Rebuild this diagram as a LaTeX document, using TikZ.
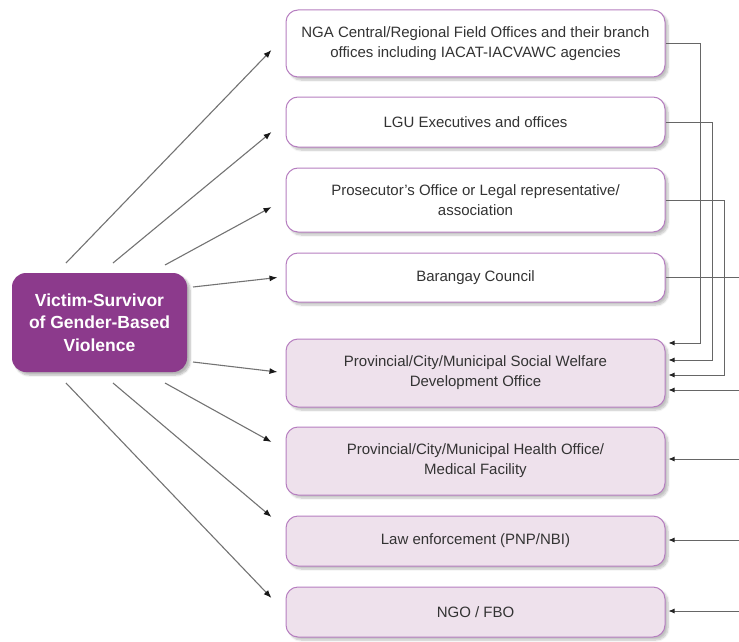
\documentclass[tikz,border=0pt]{standalone}
\usepackage{fontspec}
\setmainfont{Liberation Sans}
\usetikzlibrary{arrows.meta}
\usetikzlibrary{shadows.blur}

\definecolor{plum}{HTML}{8C3A8C}
\definecolor{lilac}{HTML}{B67EC0}
\definecolor{blush}{HTML}{EEE1EC}

\tikzset{
  agency/.style={draw=lilac, line width=1pt, rounded corners=12pt,
    minimum width=379pt, align=center, text=black!80,
    font=\fontsize{15}{20}\selectfont,
    blur shadow={shadow xshift=3pt, shadow yshift=-3pt, shadow opacity=25, shadow blur steps=6}},
  service/.style={agency, fill=blush},
  link/.style={draw=black!55, line width=1.1pt, -{Latex[length=8pt,width=6pt,color=black!90]}},
  feed/.style={draw=black!60, line width=.8pt},
}

\begin{document}
\begin{tikzpicture}[x=1pt,y=-1pt]
      \useasboundingbox (0,0) rectangle (739,642);
      % the person at the centre
      \node[rounded corners=14pt, fill=plum, minimum width=175pt, minimum height=99pt,
        align=center, text=white, font=\bfseries\fontsize{17.5}{22.5}\selectfont,
        blur shadow={shadow xshift=3pt, shadow yshift=-3pt, shadow opacity=30, shadow blur steps=6}]
        (vic) at (99.5,322.5) {Victim-Survivor\\of Gender-Based\\Violence};
      % offices and service providers
      \node[agency, fill=white, minimum height=67pt] (nga) at (475.5,43.5)
        {NGA Central/Regional Field Offices and their branch\\offices including IACAT-IACVAWC agencies};
      \node[agency, fill=white, minimum height=50pt] (lgu) at (475.5,122) {LGU Executives and offices};
      \node[agency, fill=white, minimum height=64pt] (pros) at (475.5,200)
        {Prosecutor’s Office or Legal representative/\\association};
      \node[agency, fill=white, minimum height=49pt] (brgy) at (475.5,277.5) {Barangay Council};
      \node[service, minimum height=68pt] (swdo) at (475.5,373)
        {Provincial/City/Municipal Social Welfare\\Development Office};
      \node[service, minimum height=68pt] (pho) at (475.5,461)
        {Provincial/City/Municipal Health Office/\\Medical Facility};
      \node[service, minimum height=50pt] (pnp) at (475.5,541) {Law enforcement (PNP/NBI)};
      \node[service, minimum height=50pt] (ngo) at (475.5,612) {NGO / FBO};
      % where the fan of arrows leaves the victim-survivor box
      \coordinate (s1) at (66,263);
      \coordinate (s2) at (113,263);
      \coordinate (s3) at (165,265);
      \coordinate (s4) at (193,287);
      \coordinate (s5) at (193,362);
      \coordinate (s6) at (165,383);
      \coordinate (s7) at (113,383);
      \coordinate (s8) at (66,383);
      \draw [link] (s1) -- ([xshift=-14pt,yshift=-6.5pt]nga.west);
      \draw [link] (s2) -- ([xshift=-14pt,yshift=-10pt]lgu.west);
      \draw [link] (s3) -- ([xshift=-14pt,yshift=-7pt]pros.west);
      \draw [link] (s4) -- ([xshift=-8pt]brgy.west);
      \draw [link] (s5) -- ([xshift=-8pt,yshift=1pt]swdo.west);
      \draw [link] (s6) -- ([xshift=-14pt,yshift=19pt]pho.west);
      \draw [link] (s7) -- ([xshift=-14pt,yshift=24pt]pnp.west);
      \draw [link] (s8) -- ([xshift=-14pt,yshift=14pt]ngo.west);
      % referrals on the right
      \coordinate (r4) at (739,277.5);
      \coordinate (r5) at (739,390);
      \coordinate (r6) at (739,459);
      \coordinate (r7) at (739,540);
      \coordinate (r8) at (739,611);
      \draw [feed, -{Latex[length=6pt,width=5pt,color=black!85]}] (nga.east) -| ([xshift=35pt,yshift=30pt]swdo.east) -- ([xshift=3pt,yshift=30pt]swdo.east);
      \draw [feed, -{Latex[length=6pt,width=5pt,color=black!85]}] (lgu.east) -| ([xshift=47pt,yshift=13pt]swdo.east) -- ([xshift=3pt,yshift=13pt]swdo.east);
      \draw [feed, -{Latex[length=6pt,width=5pt,color=black!85]}] (pros.east) -| ([xshift=59pt,yshift=-2pt]swdo.east) -- ([xshift=3pt,yshift=-2pt]swdo.east);
      \draw [feed] (brgy.east) -- (r4);
      \draw [feed, -{Latex[length=6pt,width=5pt,color=black!85]}] (r5) -- ([xshift=3pt,yshift=-17pt]swdo.east);
      \draw [feed, -{Latex[length=6pt,width=5pt,color=black!85]}] (r6) -- ([xshift=3pt,yshift=2pt]pho.east);
      \draw [feed, -{Latex[length=6pt,width=5pt,color=black!85]}] (r7) -- ([xshift=3pt,yshift=1pt]pnp.east);
      \draw [feed, -{Latex[length=6pt,width=5pt,color=black!85]}] (r8) -- ([xshift=3pt,yshift=1pt]ngo.east);
    \end{tikzpicture}
\end{document}
